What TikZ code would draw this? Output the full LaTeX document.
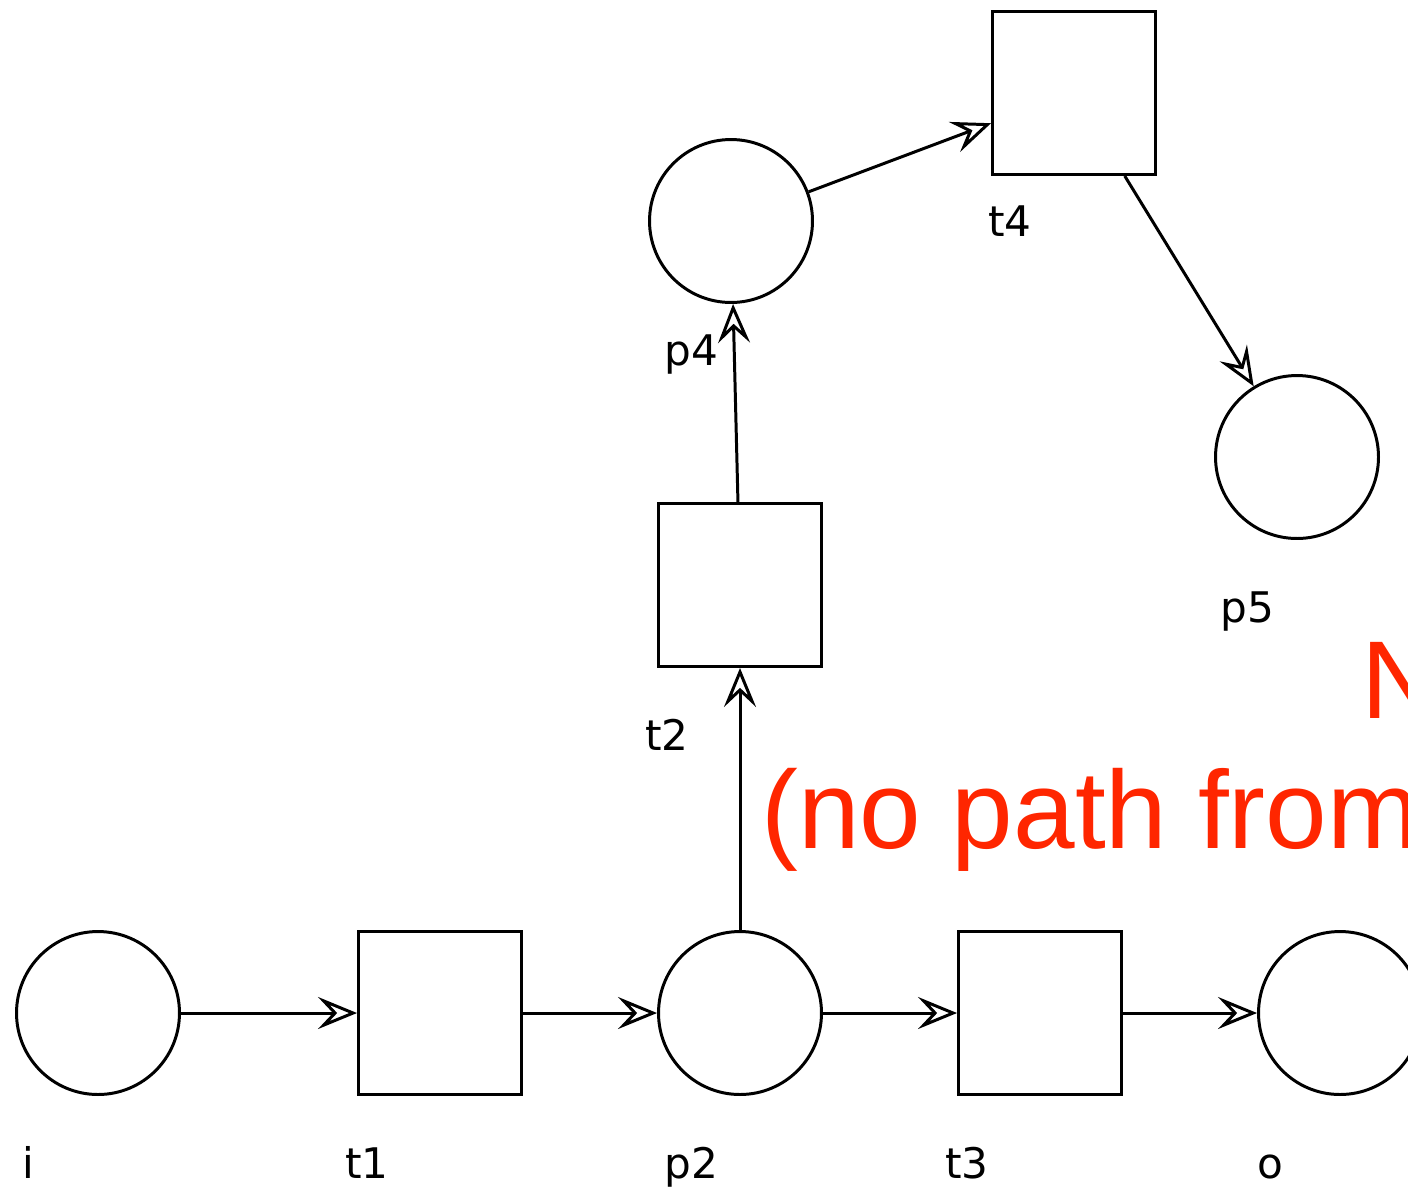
\documentclass[tikz,border=0pt]{standalone}
\usepackage{fontspec}
\usetikzlibrary{arrows.meta}
\newfontfamily\netfont{DejaVu Sans}
\newfontfamily\notefont{Liberation Sans}
\definecolor{notered}{RGB}{255,38,0}
\begin{document}
\begin{tikzpicture}[x=0.02cm, y=0.02cm]
\tikzstyle{every node}+=[inner sep=0pt]
\tikzstyle{place}=[draw, circle, line width=1.7pt, minimum size=3.26cm]
\tikzstyle{trans}=[draw, rectangle, line width=1.7pt, minimum size=3.26cm]
\tikzstyle{flow}=[line width=1.7pt, -{Stealth[open, length=0.78cm, width=0.64cm, inset=0.3cm]}]
\tikzstyle{tag}=[anchor=base west, font=\netfont\fontsize{24}{28}\selectfont]
\tikzstyle{remark}=[anchor=base west, text=notered, font=\notefont\fontsize{63}{72}\selectfont]
\useasboundingbox (0,0) rectangle (1408,-1188);
\clip (0,0) rectangle (1408,-1188);
\node [place] (i) at (98,-1013) {};
\node [trans] (t1) at (440,-1013) {};
\node [place] (p2) at (740,-1013) {};
\node [trans] (t3) at (1040,-1013) {};
\node [place] (o) at (1340,-1013) {};
\node [trans] (t2) at (740,-585) {};
\node [place] (p4) at (731,-221) {};
\node [trans] (t4) at (1074,-93) {};
\node [place] (p5) at (1297,-457) {};
\node [tag] (i-tag) at (22,-1178) {i};
\node [tag] (t1-tag) at (345,-1178) {t1};
\node [tag] (p2-tag) at (664,-1178) {p2};
\node [tag] (t3-tag) at (945,-1178) {t3};
\node [tag] (o-tag) at (1257,-1178) {o};
\node [tag] (t2-tag) at (645,-750) {t2};
\node [tag] (p4-tag) at (664,-365) {p4};
\node [tag] (t4-tag) at (988,-236) {t4};
\node [tag] (p5-tag) at (1220,-622) {p5};
\draw [flow] (i) -- (t1);
\draw [flow] (t1) -- (p2);
\draw [flow] (p2) -- (t3);
\draw [flow] (t3) -- (o);
\draw [flow] (p2) -- (t2);
\draw [flow] (t2) -- (p4);
\draw [flow] (p4) -- (t4.200);
\draw [flow] (t4) -- (p5);
\node [remark] (verdict) at (1361,-718) {N};
\node [remark] (reason) at (761,-848) {(no path from};
\end{tikzpicture}
\end{document}
